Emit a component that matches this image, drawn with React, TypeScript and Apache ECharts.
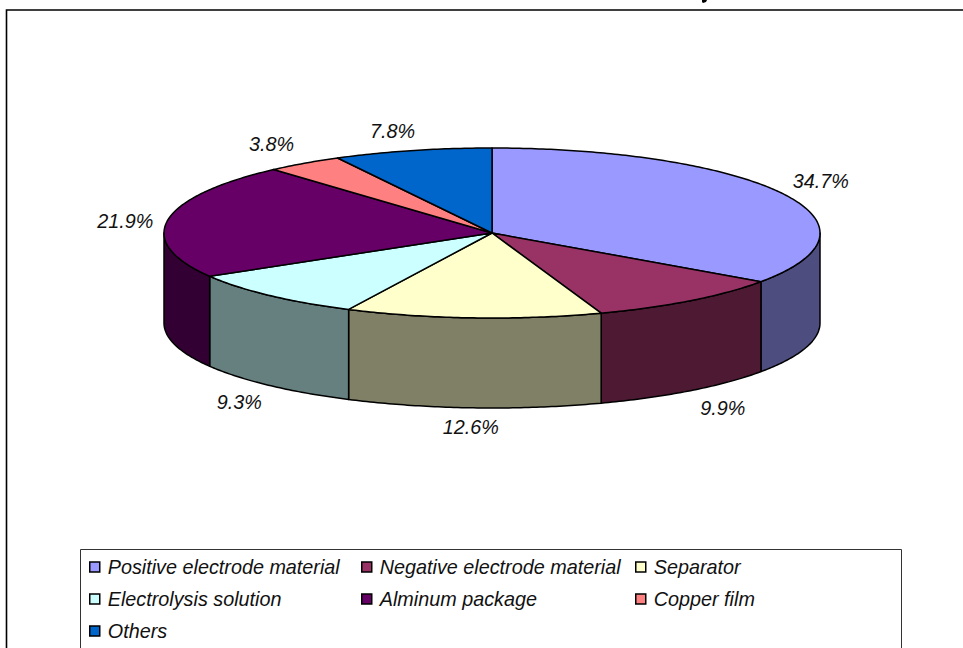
import React, { useEffect, useRef } from "react";
import * as echarts from "echarts";

// Lithium-ion battery cost structure, percent of total.
const materials = [
  "Positive electrode material",
  "Negative electrode material",
  "Separator",
  "Electrolysis solution",
  "Alminum package",
  "Copper film",
  "Others",
];
const shares = [34.7, 9.9, 12.6, 9.3, 21.9, 3.8, 7.8];
const topColors = ["#9999FF", "#993366", "#FFFFCC", "#CCFFFF", "#660066", "#FF8080", "#0066CC"];
const wallColors = ["#4D4D80", "#4D1933", "#808066", "#668080", "#330033", "#804040", "#003366"];

const CX = 492;
const CY = 233;
const RX = 328;
const RY = 85;
const DEPTH = 90;
const FONT = "'Liberation Sans', Arial, sans-serif";
const FONT_SIZE = 19.8;

// Extra label shifts on top of the radial placement rule.
const labelShift = [
  [-2, -3],
  [5, 1],
  [0, -1],
  [0, 2],
  [2, 4],
  [-7, -3],
  [-9, 0],
];

const rimPoint = (t: number, drop = 0): number[] => [
  CX + RX * Math.sin(t),
  CY - RY * Math.cos(t) + drop,
];

const arcPoints = (a: number, b: number, drop = 0): number[][] => {
  const steps = Math.max(2, Math.ceil(Math.abs(b - a) / 0.012));
  const pts: number[][] = [];
  for (let i = 0; i <= steps; i++) pts.push(rimPoint(a + ((b - a) * i) / steps, drop));
  return pts;
};

const sliceRender = (index: number) => (_params: unknown, api: any) => {
  const total = shares.reduce((s, v) => s + v, 0);
  const before = shares.slice(0, index).reduce((s, v) => s + v, 0);
  const start = (before / total) * 2 * Math.PI;
  const end = ((before + api.value(0)) / total) * 2 * Math.PI;
  const mid = (start + end) / 2;

  const border = { stroke: "#000", lineWidth: 1.5, lineJoin: "round" };
  const children: any[] = [];

  // The side wall only shows on the near half of the disc.
  const wallFrom = Math.max(start, Math.PI / 2);
  const wallTo = Math.min(end, (3 * Math.PI) / 2);
  if (wallTo > wallFrom) {
    const points = [
      ...arcPoints(wallFrom, wallTo),
      ...arcPoints(wallTo, wallFrom, DEPTH),
    ];
    children.push({
      type: "polygon",
      shape: { points },
      style: { fill: wallColors[index], ...border },
    });
  }

  children.push({
    type: "polygon",
    shape: { points: [[CX, CY], ...arcPoints(start, end)] },
    style: { fill: topColors[index], ...border },
  });

  const drop = Math.cos(mid) < 0 ? DEPTH : 0;
  const [ex, ey] = rimPoint(mid, drop);
  const [sx, sy] = labelShift[index];
  children.push({
    type: "text",
    style: {
      text: `${api.value(0).toFixed(1)}%`,
      x: ex + 45 * Math.sin(mid) + sx,
      y: ey - 20 * Math.cos(mid) + sy,
      align: "center",
      verticalAlign: "middle",
      fill: "#111",
      font: `italic ${FONT_SIZE}px ${FONT}`,
    },
  });

  return { type: "group", children };
};

const legendColumn = (names: string[], left: number) => ({
  orient: "vertical" as const,
  left,
  top: 557,
  data: names,
  icon: "rect",
  itemWidth: 10,
  itemHeight: 10,
  itemGap: 12,
  selectedMode: false,
  padding: 0,
  itemStyle: { borderColor: "#000", borderWidth: 1.5 },
  textStyle: {
    fontFamily: FONT,
    fontStyle: "italic" as const,
    fontSize: FONT_SIZE,
    lineHeight: 20,
    color: "#111",
    padding: [0, 0, 0, 3],
  },
});

export default function App() {
  const ref = useRef<HTMLDivElement>(null);

  useEffect(() => {
    const chart = echarts.init(ref.current!, undefined, { renderer: "svg" });
    chart.setOption({
      animation: false,
      backgroundColor: "#fff",
      graphic: [
        {
          type: "rect",
          z: 0,
          shape: { x: 6.5, y: 10, width: 1000, height: 700 },
          style: { fill: "#fff", stroke: "#000", lineWidth: 1.6 },
        },
        {
          type: "rect",
          z: 0,
          shape: { x: 80.5, y: 549.5, width: 821, height: 120 },
          style: { fill: "#fff", stroke: "#333", lineWidth: 1 },
        },
        // Small ink mark at the top edge, above the frame.
        {
          type: "polygon",
          z: 1,
          shape: { points: [[702, 0], [707, 0], [706, 2], [703, 3], [702, 2]] },
          style: { fill: "#000" },
        },
      ],
      legend: [
        legendColumn([materials[0], materials[3], materials[6]], 89),
        legendColumn([materials[1], materials[4]], 361),
        legendColumn([materials[2], materials[5]], 635),
      ],
      series: materials.map((name, i) => ({
        type: "custom",
        name,
        coordinateSystem: "none",
        clip: false,
        silent: true,
        itemStyle: { color: topColors[i] },
        data: [[shares[i]]],
        renderItem: sliceRender(i),
      })),
    });
    return () => chart.dispose();
  }, []);

  return (
    <div
      ref={ref}
      style={{ position: "absolute", left: 0, top: 0, width: 963, height: 648 }}
    />
  );
}
